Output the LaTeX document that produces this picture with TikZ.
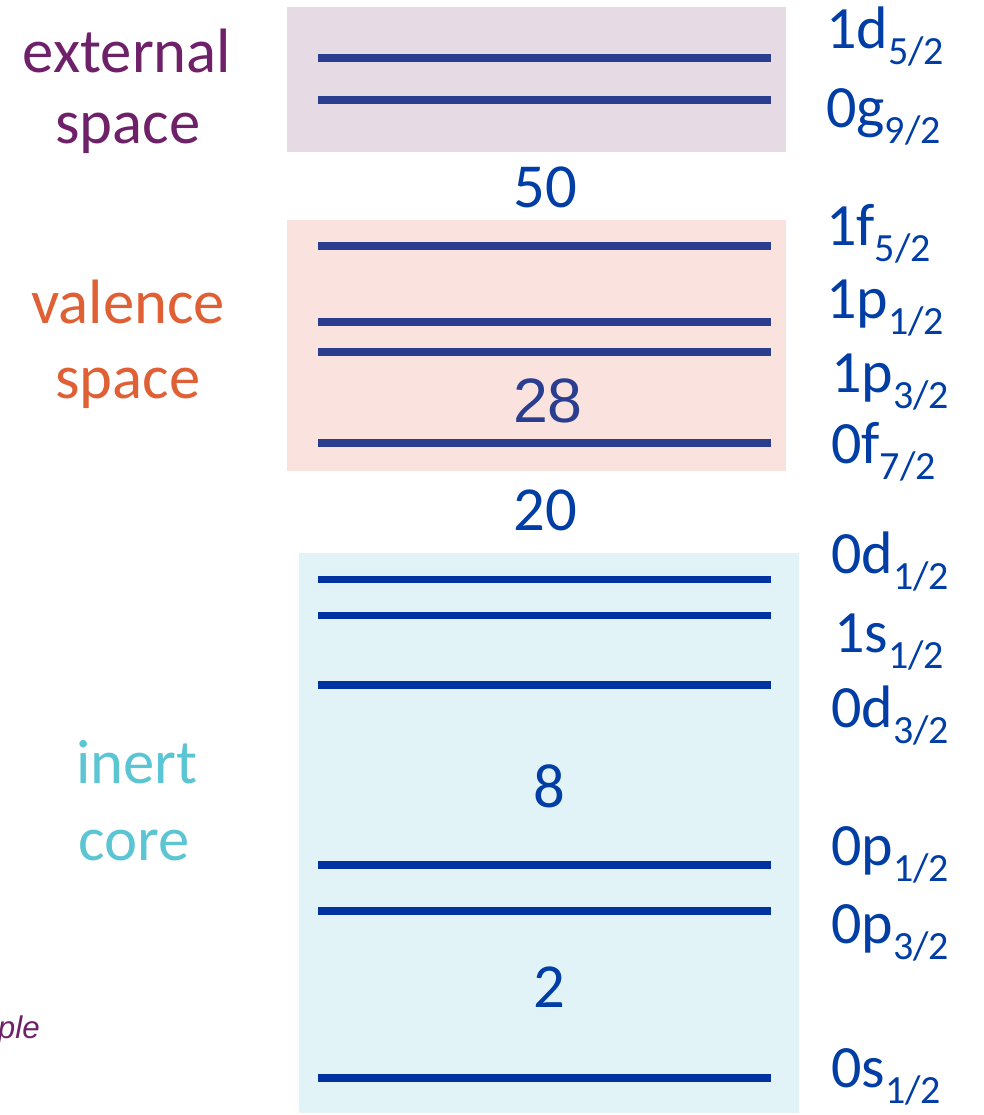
\documentclass[tikz,border=0pt]{standalone}
\usepackage{fontspec}
\setmainfont{Carlito}
\newfontfamily\arialf{Liberation Sans}
\definecolor{extbg}{HTML}{E6DAE5}
\definecolor{valbg}{HTML}{FAE3DE}
\definecolor{inbg}{HTML}{E1F3F7}
\definecolor{lineA}{HTML}{2A3D8F}
\definecolor{lineB}{HTML}{0033A0}
\definecolor{labc}{HTML}{003DA5}
\definecolor{purp}{HTML}{6E2068}
\definecolor{oran}{HTML}{E06035}
\definecolor{cyan}{HTML}{5BC5D4}
\newcommand\sbs[1]{\raisebox{-12pt}{\fontsize{30}{30}\selectfont #1}}
\tikzset{
  lvlA/.style={draw=lineA, line width=5.6pt},
  lvlB/.style={draw=lineB, line width=5.3pt},
  lab/.style={anchor=base west, inner sep=0pt, text=labc, font=\fontsize{45}{50}\selectfont},
  num/.style={anchor=base, inner sep=0pt, text=labc, font=\fontsize{47}{50}\selectfont},
  side/.style={anchor=base, inner sep=0pt, font=\fontsize{47}{50}\selectfont}
}
\begin{document}
\begin{tikzpicture}[x=0.75pt,y=-0.75pt]
\useasboundingbox (0,0) rectangle (984,1115);
% boxes
\fill[extbg] (287,7) rectangle (786,152);
\fill[valbg] (287,220) rectangle (786,471);
\fill[inbg] (299,553) rectangle (799,1113);
% levels
\foreach \y in {58,100,246,322,352,443} \draw[lvlA] (318,\y) -- (771,\y);
\foreach \y in {579.5,615.5,685,865,911,1078} \draw[lvlB] (318,\y) -- (771,\y);
% right labels
\node[lab] (l1d) at (826,48) {1d\sbs{5/2}};
\node[lab] (l0g) at (826,127) {0g\sbs{9/2}};
\node[lab] (l1f) at (826,245) {1f\sbs{5/2}};
\node[lab] (l1pa) at (826,318) {1p\sbs{1/2}};
\node[lab] (l1pb) at (831,392) {1p\sbs{3/2}};
\node[lab] (l0f) at (831,463) {0f\sbs{7/2}};
\node[lab] (l0da) at (831,573) {0d\sbs{1/2}};
\node[lab] (l1s) at (834,652) {1s\sbs{1/2}};
\node[lab] (l0db) at (831,727) {0d\sbs{3/2}};
\node[lab] (l0pa) at (831,865) {0p\sbs{1/2}};
\node[lab] (l0pb) at (831,943) {0p\sbs{3/2}};
\node[lab] (l0s) at (831,1087) {0s\sbs{1/2}};
% magic numbers
\node[num] (n50) at (545,207) {50};
\node[num, text=lineA, font=\arialf\fontsize{47}{50}\selectfont] (n28) at (548,422) {28};
\node[num] (n20) at (545,530) {20};
\node[num] (n8) at (549,807) {8};
\node[num] (n2) at (549,1007) {2};
% side labels
\node[side, text=purp] (ext1) at (127,72) {external};
\node[side, text=purp] (ext2) at (128,143) {space};
\node[side, text=oran] (val1) at (128,323) {valence};
\node[side, text=oran] (val2) at (128,398) {space};
\node[side, text=cyan] (in1) at (137,783) {inert};
\node[side, text=cyan] (in2) at (134,860) {core};
\node[anchor=base east, inner sep=0pt, text=purp, font=\arialf\itshape\fontsize{23.5}{26}\selectfont] (ple) at (40,1038) {ple};
\end{tikzpicture}
\end{document}
